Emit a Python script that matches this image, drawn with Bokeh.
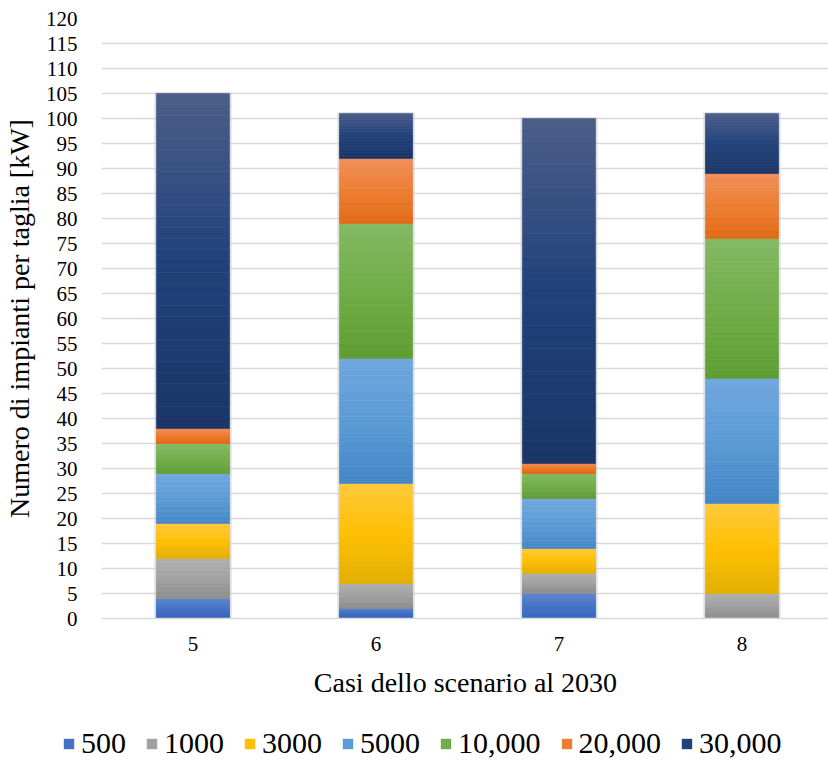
from bokeh.plotting import figure
from bokeh.models import Range1d, FixedTicker, Legend, LegendItem, ColumnDataSource
from bokeh.embed import file_html
from bokeh.resources import INLINE

# ---- data ----
cases = [5, 6, 7, 8]
case_labels = ["5", "6", "7", "8"]
series = ["500", "1000", "3000", "5000", "10,000", "20,000", "30,000"]
v500 = [4, 2, 5, 0]
v1000 = [8, 5, 4, 5]
v3000 = [7, 20, 5, 18]
v5000 = [10, 25, 10, 25]
v10000 = [6, 27, 5, 28]
v20000 = [3, 13, 2, 13]
v30000 = [67, 9, 69, 12]
y_ticks = list(range(0, 121, 5))

values = [v500, v1000, v3000, v5000, v10000, v20000, v30000]
# gradient stops (top, middle, bottom) per series
grad = [
    ("#5B86D4", "#4472C4", "#3462BF"),
    ("#B0B0B0", "#A0A0A0", "#8C8C8C"),
    ("#FFC93C", "#FFC000", "#E3AF00"),
    ("#70A7DF", "#5B9BD5", "#4386C8"),
    ("#84B964", "#70AD47", "#5E9D33"),
    ("#F28F59", "#ED7D31", "#E26914"),
    ("#4C5E8A", "#21417A", "#1A3667"),
]

FONT = "Liberation Serif"
BAR_W = 0.40
K = 30  # strips per segment for the gradient


def hex2rgb(h):
    h = h.lstrip("#")
    return tuple(int(h[i:i + 2], 16) for i in (0, 2, 4))


def mix(c1, c2, t):
    a, b = hex2rgb(c1), hex2rgb(c2)
    return "#%02x%02x%02x" % tuple(round(a[i] + (b[i] - a[i]) * t) for i in range(3))


def grad_color(stops, f):
    # f = 0 at top, 1 at bottom
    top, mid, bot = stops
    if f < 0.5:
        return mix(top, mid, f / 0.5)
    return mix(mid, bot, (f - 0.5) / 0.5)


p = figure(
    frame_width=728, frame_height=600,
    min_border_left=92, min_border_right=0, min_border_top=18, min_border_bottom=92,
    x_range=Range1d(4.5, 4.5 + 728 / 183.0), y_range=Range1d(0, 120),
    output_backend="svg", toolbar_location=None,
)
p.outline_line_color = None
p.background_fill_color = "white"
p.border_fill_color = "white"

# shadows behind bars
totals = [sum(v[i] for v in values) for i in range(len(cases))]
p.quad(left=[c - BAR_W / 2 - 0.012 for c in cases], right=[c + BAR_W / 2 + 0.012 for c in cases],
       bottom=[-0.6] * len(cases), top=[t + 0.3 for t in totals],
       fill_color="#D0D0D0", fill_alpha=0.55, line_color=None)

base = [0.0] * len(cases)
for s, vals, stops in zip(series, values, grad):
    L, R, B, T, C = [], [], [], [], []
    for i, c in enumerate(cases):
        v = vals[i]
        if v <= 0:
            continue
        b0 = base[i]
        for j in range(K):
            top = b0 + v - v * j / K
            bot = b0 + v - v * (j + 1) / K
            L.append(c - BAR_W / 2)
            R.append(c + BAR_W / 2)
            T.append(top)
            B.append(bot)
            C.append(grad_color(stops, (j + 0.5) / K))
        base[i] = b0 + v
    src = ColumnDataSource(dict(left=L, right=R, top=T, bottom=B, color=C))
    p.quad(left="left", right="right", top="top", bottom="bottom", source=src,
           fill_color="color", line_color="color", line_width=0.6)

# axes
p.xaxis.ticker = FixedTicker(ticks=cases)
p.xaxis.major_label_overrides = {c: l for c, l in zip(cases, case_labels)}
p.yaxis.ticker = FixedTicker(ticks=y_ticks)
p.xgrid.visible = False
p.ygrid.grid_line_color = "#D9D9D9"
p.ygrid.grid_line_width = 1.3

for ax in (p.xaxis[0], p.yaxis[0]):
    ax.major_tick_line_color = None
    ax.minor_tick_line_color = None
    ax.major_label_text_font = FONT
    ax.major_label_text_font_size = "21px"
    ax.major_label_text_color = "#000000"
    ax.axis_label_text_font = FONT
    ax.axis_label_text_font_size = "28px"
    ax.axis_label_text_font_style = "normal"
    ax.axis_label_text_color = "#000000"

p.yaxis.axis_line_color = None
p.xaxis.axis_line_color = "#D9D9D9"
p.xaxis.axis_line_width = 1.3
p.yaxis.axis_label = "Numero di impianti per taglia [kW]"
p.xaxis.axis_label = "Casi dello scenario al 2030"
p.yaxis.major_label_standoff = 18
p.yaxis.axis_label_standoff = 8
p.xaxis.major_label_standoff = 12
p.xaxis.axis_label_standoff = 13

# ---- legend strip (separate root below the chart) ----
# its renderers hold the series data but lie outside this strip's visible range
lg = figure(width=820, height=50, x_range=Range1d(0, 1), y_range=Range1d(0, 1),
            x_axis_type=None, y_axis_type=None,
            min_border_left=0, min_border_right=0, min_border_top=0, min_border_bottom=0,
            output_backend="svg", toolbar_location=None)
lg.outline_line_color = None
lg.xgrid.visible = False
lg.ygrid.visible = False
items = []
for s, vals, stops in zip(series, values, grad):
    r = lg.quad(left=cases, right=cases, top=vals, bottom=vals,
                fill_color=stops[1], line_color=None)
    items.append(LegendItem(label=s, renderers=[r]))
legend = Legend(items=items, orientation="horizontal", location=(62, 0),
                label_text_font=FONT, label_text_font_size="30px",
                label_text_color="#000000",
                glyph_width=13, glyph_height=13, label_standoff=6, spacing=19,
                padding=0, margin=0, border_line_color=None,
                background_fill_alpha=0)
lg.add_layout(legend, "center")

open("out.html", "w").write(file_html([p, lg], INLINE))
